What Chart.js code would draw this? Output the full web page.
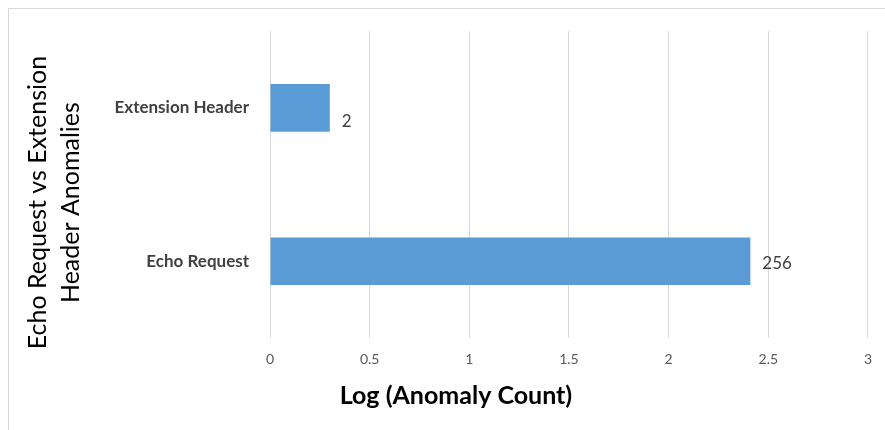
<!DOCTYPE html>
<html lang="en">
<head>
  <meta charset="UTF-8">
  <title>Echo Request vs Extension Header Anomalies</title>
  <script src="https://cdn.jsdelivr.net/npm/chart.js"></script>
  <style>
    html, body {
      margin: 0;
      padding: 0;
      background: #fff;
    }
    .wrap {
      position: relative;
      width: 885px;
      height: 430px;
    }
    .frame {
      position: absolute;
      left: 8px;
      top: 8px;
      right: 0;
      bottom: 0;
      border-top: 1px solid #d9d9d9;
      border-left: 1px solid #d9d9d9;
    }
    canvas {
      position: absolute;
      left: 0;
      top: 0;
    }
  </style>
</head>
<body>

<div class="wrap">
  <div class="frame"></div>
  <canvas id="anomalyChart" width="885" height="430"></canvas>
</div>

<script>
  // values
  const categories = ['Extension Header', 'Echo Request'];
  const anomalyCounts = [2, 256];          // shown next to each bar
  const logCounts = [0.30, 2.41];          // bar lengths
  const xTicks = [0, 0.5, 1, 1.5, 2, 2.5, 3];

  const xTitle = 'Log (Anomaly Count)';
  const yTitle = ['Echo Request vs Extension', 'Header Anomalies'];

  // counts printed just past the end of each bar
  const barLabels = {
    id: 'barLabels',
    afterDatasetsDraw(chart, args, opts) {
      const ctx = chart.ctx;
      const meta = chart.getDatasetMeta(0);
      ctx.save();
      ctx.font = '17px Lato';
      ctx.fillStyle = '#404040';
      ctx.textAlign = 'left';
      ctx.textBaseline = 'middle';
      meta.data.forEach((bar, i) => {
        ctx.fillText(String(anomalyCounts[i]), bar.x + 12, bar.y + opts.dy[i]);
      });
      ctx.restore();
    }
  };

  // axis titles sit off-centre in the original, so draw them here
  const axisTitles = {
    id: 'axisTitles',
    afterDraw(chart) {
      const ctx = chart.ctx;
      const area = chart.chartArea;
      ctx.save();
      ctx.fillStyle = '#000';
      ctx.textAlign = 'center';
      ctx.textBaseline = 'middle';

      ctx.font = 'bold 25px Lato';
      ctx.fillText(xTitle, area.left + 186, area.bottom + 58);

      ctx.font = '25px Lato';
      ctx.translate(area.left - 232, (area.top + area.bottom) / 2 + 18);
      ctx.rotate(-Math.PI / 2);
      yTitle.forEach((line, i) => ctx.fillText(line, 0, i * 33));
      ctx.restore();
    }
  };

  new Chart(document.getElementById('anomalyChart'), {
    type: 'bar',
    data: {
      labels: categories,
      datasets: [{
        data: logCounts,
        backgroundColor: '#5b9bd5',
        borderWidth: 0,
        categoryPercentage: 1,
        barPercentage: 0.31
      }]
    },
    options: {
      indexAxis: 'y',
      responsive: false,
      animation: false,
      layout: {
        padding: { top: 30, right: 7, left: 0, bottom: 0 }
      },
      scales: {
        x: {
          min: 0,
          max: 3,
          afterBuildTicks: scale => {
            scale.ticks = xTicks.map(v => ({ value: v }));
          },
          afterFit: scale => { scale.height = 92; },
          grid: {
            color: '#d9d9d9',
            lineWidth: 1,
            drawTicks: false
          },
          border: { display: false },
          ticks: {
            padding: 13,
            color: '#595959',
            font: { family: 'Lato', size: 14 },
            callback: v => String(v)
          }
        },
        y: {
          afterFit: scale => { scale.width = 270; },
          grid: { display: false, drawTicks: false },
          border: { display: false },
          ticks: {
            padding: 21,
            color: '#404040',
            font: { family: 'Lato', size: 17, weight: 'bold' }
          }
        }
      },
      plugins: {
        legend: { display: false },
        tooltip: { enabled: false },
        barLabels: { dy: [14, 2] }
      }
    },
    plugins: [barLabels, axisTitles]
  });
</script>

</body>
</html>
